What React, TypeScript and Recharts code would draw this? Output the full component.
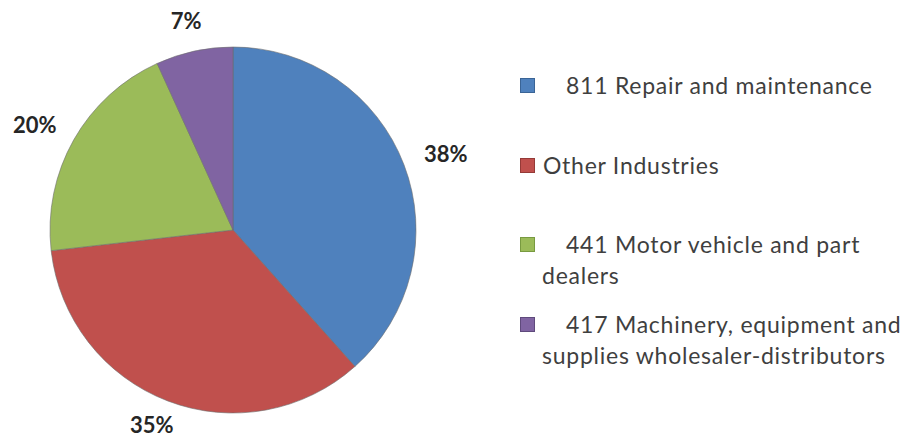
import { PieChart, Pie, Cell, Legend } from "recharts"

// share by industry (percent)
const industries = [
    "811 Repair and maintenance",
    "Other Industries",
    "441 Motor vehicle and part dealers",
    "417 Machinery, equipment and supplies wholesaler-distributors",
]
const shares = [38.4, 34.8, 20.0, 6.8]
const colors = ["#4F81BD", "#C0504D", "#9BBB59", "#8064A2"]
const borders = ["#3A6496", "#953A37", "#789A40", "#5F4A7C"]

const data = industries.map((name, i) => ({ name, value: shares[i] }))

const WIDTH = 907
const HEIGHT = 439
const RAD = Math.PI / 180
const LABEL_FONT = 22

// Excel-ish "outside end": label box pushed out from the rim along the mid angle
const renderLabel = (props: any) => {
    const { cx, cy, midAngle, outerRadius, value } = props
    const text = `${Math.round(value)}%`
    const w = text.length * 12.5 + 8
    const h = 18
    const cos = Math.cos(-midAngle * RAD)
    const sin = Math.sin(-midAngle * RAD)
    const r = outerRadius + 22
    const x = cx + r * cos + (w / 2) * cos
    // keep the label inside the picture
    const y = Math.min(cy + r * sin + (h / 2) * sin, HEIGHT - LABEL_FONT * 0.6 - 1)
    return (
        <text x={x} y={y} textAnchor="middle" dominantBaseline="central"
            fill="#262626" fontSize={LABEL_FONT} fontWeight="bold" fontFamily="Lato, sans-serif">
            {text}
        </text>
    )
}

// legend rows (top of each text line), first line indented as in the original
const legendRows = [
    { top: 70, first: "811 Repair and maintenance", second: "", indent: true },
    { top: 150, first: "Other Industries", second: "", indent: false },
    { top: 229, first: "441 Motor vehicle and part", second: "dealers", indent: true },
    { top: 309, first: "417 Machinery, equipment and", second: "supplies wholesaler-distributors", indent: true },
]

const LegendBox = () => (
    <div style={{ position: "relative", width: WIDTH, height: HEIGHT, fontFamily: "Lato, sans-serif", fontSize: 23, letterSpacing: 0.75, color: "#3f3f3f", whiteSpace: "nowrap" }}>
        {legendRows.map((row, i) => (
            <div key={i} style={{ position: "absolute", left: 520, top: row.top, lineHeight: "31px" }}>
                <div style={{ display: "flex", alignItems: "center", height: 31 }}>
                    <span style={{
                        display: "inline-block", width: 13, height: 13, background: colors[i],
                        border: `1px solid ${borders[i]}`, marginRight: row.indent ? 31 : 8
                    }} />
                    <span>{row.first}</span>
                </div>
                {row.second && <div style={{ paddingLeft: 22 }}>{row.second}</div>}
            </div>
        ))}
    </div>
)

export default function App() {
    return (
        <div style={{ position: "absolute", left: 0, top: 0, width: WIDTH, height: HEIGHT, background: "#fff" }}>
            <PieChart width={WIDTH} height={HEIGHT} margin={{ top: 0, right: 0, bottom: 0, left: 0 }}>
                <Pie
                    data={data}
                    dataKey="value"
                    nameKey="name"
                    cx={233}
                    cy={230}
                    outerRadius={183}
                    startAngle={90}
                    endAngle={-270}
                    stroke="#6d6d6d"
                    strokeWidth={0.6}
                    label={renderLabel}
                    labelLine={false}
                    isAnimationActive={false}
                >
                    {data.map((d, i) => (
                        <Cell key={d.name} fill={colors[i]} />
                    ))}
                </Pie>
                <Legend
                    content={() => <LegendBox />}
                    wrapperStyle={{ position: "absolute", left: 0, top: 0, width: WIDTH, height: HEIGHT }}
                />
            </PieChart>
        </div>
    )
}
